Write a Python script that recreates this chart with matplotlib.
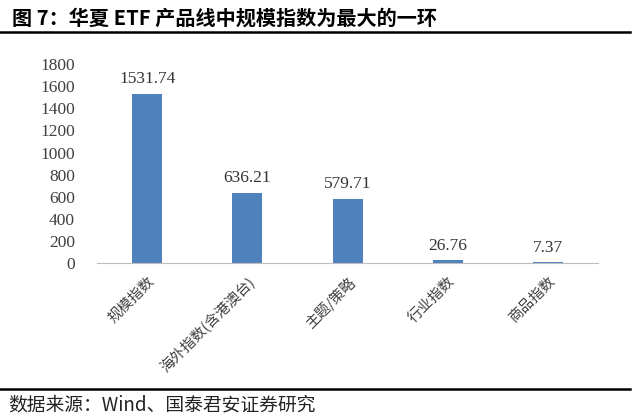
import matplotlib.pyplot as plt
from matplotlib.lines import Line2D

categories = ["规模指数", "海外指数(含港澳台)", "主题/策略", "行业指数", "商品指数"]
values = [1531.74, 636.21, 579.71, 26.76, 7.37]
yticks = [0, 200, 400, 600, 800, 1000, 1200, 1400, 1600, 1800]

cjk = ["Noto Sans CJK SC", "DejaVu Sans"]
serif = ["Liberation Serif", "DejaVu Serif"]

fig = plt.figure(figsize=(6.4, 4.19), dpi=100)
ax = fig.add_axes([0.152, 0.372, 0.782, 0.475])

x = range(len(categories))
bars = ax.bar(x, values, width=0.3, color="#4f81bd", zorder=2)
for b, v in zip(bars, values):
    ax.text(b.get_x() + b.get_width() / 2, v + 60, f"{v:.2f}",
            ha="center", va="bottom", fontsize=12.5, family=serif, color="#333333")

ax.set_xlim(-0.5, len(categories) - 0.5)
ax.set_ylim(0, 1800)
ax.set_yticks(yticks)
ax.set_yticklabels([str(t) for t in yticks], family=serif, fontsize=12.5, color="#404040")
ax.set_xticks(list(x))
ax.set_xticklabels(categories, rotation=45, ha="right", rotation_mode="anchor",
                   family=cjk, fontsize=10.5, color="#404040")
ax.tick_params(axis="y", length=0, pad=16)
ax.tick_params(axis="x", length=0, pad=8)
for s in ["top", "right", "left"]:
    ax.spines[s].set_visible(False)
ax.spines["bottom"].set_color("#bfbfbf")

fig.text(0.019, 0.958, "图 7：华夏 ETF 产品线中规模指数为最大的一环", fontsize=14.5,
         fontweight="bold", family=cjk, va="center", ha="left")
fig.add_artist(Line2D([0.0, 0.985], [0.924, 0.924], color="black", lw=1.8))
fig.add_artist(Line2D([0.0, 0.985], [0.071, 0.071], color="black", lw=1.8))
fig.text(0.013, 0.033, "数据来源：Wind、国泰君安证券研究", fontsize=13.5,
         family=cjk, va="center", ha="left", color="#222222")

plt.savefig("out.png", dpi=100)
